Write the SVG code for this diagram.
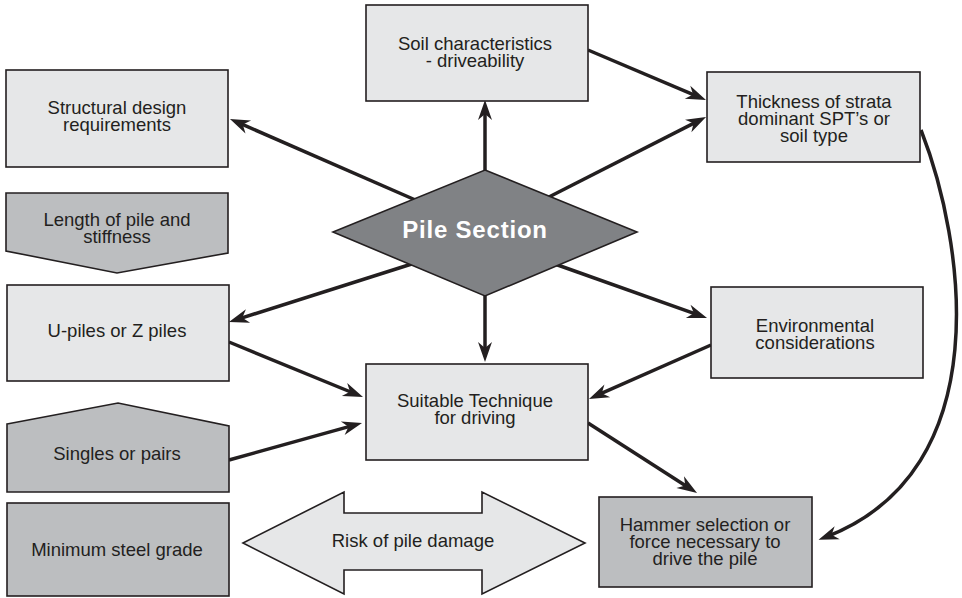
<svg xmlns="http://www.w3.org/2000/svg" width="962" height="598" viewBox="0 0 962 598">
<style>
.light{fill:#e6e7e8;stroke:#231f20;stroke-width:1.6}
.dark{fill:#bcbec0;stroke:#231f20;stroke-width:1.6}
.dia{fill:#808285;stroke:#231f20;stroke-width:1.6}
.t{font-family:"Liberation Sans",Arial,sans-serif;font-size:18.5px;fill:#231f20;text-anchor:middle}
.tb{font-family:"Liberation Sans",Arial,sans-serif;font-size:24px;font-weight:bold;fill:#ffffff;text-anchor:middle;letter-spacing:0.8px}
.c{fill:none;stroke:#231f20;stroke-width:3.5;marker-end:url(#ah)}
</style>
<defs>
<marker id="ah" markerUnits="userSpaceOnUse" markerWidth="30" markerHeight="20" viewBox="-20 -10 30 20" refX="0" refY="0" orient="auto" overflow="visible">
<path d="M8,0 L-12,-7 L-6,0 L-12,7 Z" fill="#231f20"/>
</marker>
</defs>
<rect width="962" height="598" fill="#ffffff"/>
<g id="connectors">
<line class="c" x1="485" y1="200" x2="485" y2="108"/>
<line class="c" x1="420" y1="202" x2="237.3" y2="122.2"/>
<line class="c" x1="545" y1="199" x2="698.9" y2="120.6"/>
<line class="c" x1="588" y1="50" x2="698.6" y2="96.9"/>
<line class="c" x1="418" y1="262" x2="236.6" y2="319.6"/>
<line class="c" x1="485" y1="270" x2="485" y2="354"/>
<line class="c" x1="552" y1="263" x2="699.5" y2="315.3"/>
<line class="c" x1="711" y1="345" x2="596.3" y2="395.7"/>
<line class="c" x1="588" y1="423" x2="690.3" y2="488.7"/>
<line class="c" x1="229" y1="342" x2="355.6" y2="394"/>
<line class="c" x1="229" y1="460" x2="354.3" y2="425.1"/>
<path class="c" d="M921,130 C964,240 1000,470 826,537"/>
</g>
<g id="soil">
<rect class="light" x="366" y="5" width="222" height="96"/>
<text class="t" x="475" y="50">Soil characteristics</text>
<text class="t" x="475" y="67">- driveability</text>
</g>
<g id="structural">
<rect class="light" x="6" y="70" width="222" height="97"/>
<text class="t" x="117" y="114">Structural design</text>
<text class="t" x="117" y="131">requirements</text>
</g>
<g id="thickness">
<rect class="light" x="707" y="72" width="213" height="90"/>
<text class="t" x="814" y="108">Thickness of strata</text>
<text class="t" x="814" y="125">dominant SPT’s or</text>
<text class="t" x="814" y="142">soil type</text>
</g>
<g id="length">
<polygon class="dark" points="6,193 228,193 228,253 117,273 6,251"/>
<text class="t" x="117" y="226">Length of pile and</text>
<text class="t" x="117" y="243">stiffness</text>
</g>
<g id="pile-section">
<polygon class="dia" points="485,170 637,232 485,296 333,232"/>
<text class="tb" x="475" y="238">Pile Section</text>
</g>
<g id="upiles">
<rect class="light" x="7" y="285" width="222" height="96"/>
<text class="t" x="117" y="337">U-piles or Z piles</text>
</g>
<g id="environmental">
<rect class="light" x="711" y="287" width="212" height="91"/>
<text class="t" x="815" y="332">Environmental</text>
<text class="t" x="815" y="349">considerations</text>
</g>
<g id="suitable">
<rect class="light" x="366" y="364" width="222" height="96"/>
<text class="t" x="475" y="407">Suitable Technique</text>
<text class="t" x="475" y="424">for driving</text>
</g>
<g id="singles">
<polygon class="dark" points="7,424 118,403 229,426 229,492 7,492"/>
<text class="t" x="117" y="460">Singles or pairs</text>
</g>
<g id="minimum">
<rect class="dark" x="7" y="503" width="222" height="93"/>
<text class="t" x="117" y="556">Minimum steel grade</text>
</g>
<g id="risk">
<polygon class="light" points="243,543 344,492 344,513 482,513 482,492 585,543 482,594 482,570 344,570 344,594"/>
<text class="t" x="413" y="547">Risk of pile damage</text>
</g>
<g id="hammer">
<rect class="dark" x="599" y="497" width="213" height="90"/>
<text class="t" x="705" y="531">Hammer selection or</text>
<text class="t" x="705" y="548">force necessary to</text>
<text class="t" x="705" y="565">drive the pile</text>
</g>
</svg>
